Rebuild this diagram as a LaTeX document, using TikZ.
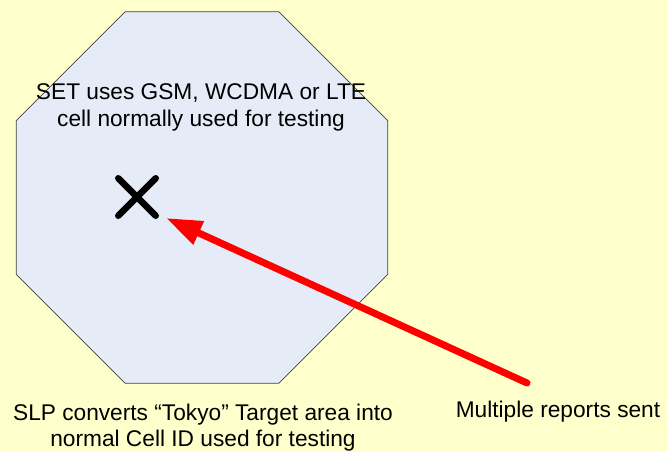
\documentclass[tikz,border=0pt]{standalone}
\usepackage{fontspec}
\setmainfont{Liberation Sans}
\usetikzlibrary{positioning,shapes.geometric,shapes.misc,arrows.meta}
\definecolor{paleyellow}{HTML}{FFFFCC}
\definecolor{cellblue}{HTML}{E6ECF7}
\begin{document}
\begin{tikzpicture}[x=1pt,y=-1pt,
    txt/.style={font=\fontsize{22.7}{26.5}\selectfont, align=center, inner sep=0pt},
    cell/.style={regular polygon, regular polygon sides=8, minimum size=402pt,
        draw=black!75, fill=cellblue, inner sep=0pt, line width=0.8pt},
    crossmark/.style={cross out, draw=black, line width=6.5pt, line cap=round,
        minimum size=31pt, inner sep=0pt}]
            \fill[paleyellow] (0,0) rectangle (667,452);
            \useasboundingbox (0,0) rectangle (667,452);

            \node[cell] (C) at (202,197.5) {};
            \node[txt] (T) at (201,107.5) {SET uses GSM, WCDMA or LTE\\cell normally used for testing};
            \node[crossmark] (X) at (137,197) {};
            \node[txt] (S) at (203,427.5) {SLP converts “Tokyo” Target area into\\normal Cell ID used for testing};
            \node[txt, anchor=base] (M) at (558,417) {Multiple reports sent};

            \coordinate (tail) at (527,383);
            \coordinate (tip) at (166,218);
            \draw[red, line width=7pt, line cap=round, -{Triangle[length=36pt,width=24pt]}] (tail) -- (tip);
        \end{tikzpicture}
\end{document}
